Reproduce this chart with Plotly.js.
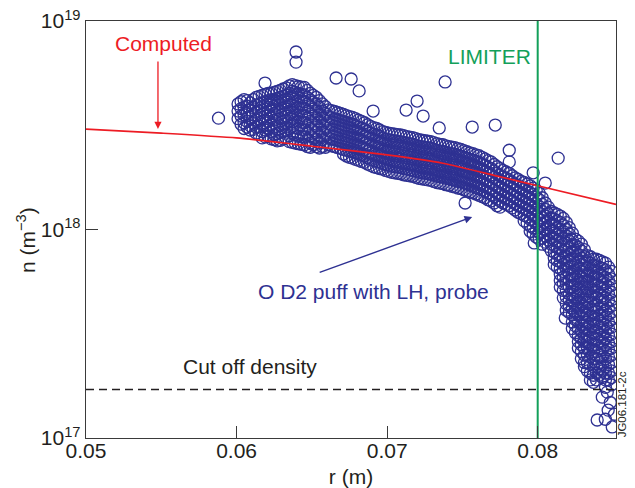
<!DOCTYPE html>
<html>
<head>
<meta charset="utf-8">
<script src="https://cdn.plot.ly/plotly-3.0.1.min.js"></script>
<style>
  html, body { margin: 0; padding: 0; background: #fff; }
  #chart { width: 635px; height: 488px; }
</style>
</head>
<body>
<div id="chart"></div>
<script>
// ---- Data (densities in units of 1e18 m^-3) ----
// Probe measurements, grouped by radius column (first set)
const probeColR = [
  0.0601, 0.0605, 0.0609, 0.0613, 0.0617, 0.0621, 0.0625, 0.0629, 0.0633, 0.0637,
  0.0641, 0.0645, 0.0649, 0.0653, 0.0657, 0.0661, 0.0665, 0.0669, 0.0673, 0.0677,
  0.0681, 0.0685, 0.0689, 0.0693, 0.0697, 0.0701, 0.0705, 0.0709, 0.0713, 0.0717,
  0.0721, 0.0725, 0.0729, 0.0733, 0.0737, 0.0741, 0.0745, 0.0749, 0.0753, 0.0757,
  0.0761, 0.0765, 0.0769, 0.0773, 0.0777, 0.0781, 0.0785, 0.0789, 0.0793, 0.0797,
  0.0801, 0.0805, 0.0809, 0.0813, 0.0817, 0.0821, 0.0825, 0.0829, 0.0833, 0.0837,
  0.0841, 0.0845, 0.0849
];
const probeColN = [
  [4.0, 3.7, 3.4],
  [4.2, 3.85, 3.55, 3.25, 3.05],
  [4.05, 3.75, 3.45, 3.15, 3.0],
  [4.3, 3.95, 3.65, 3.35, 3.1, 2.9],
  [4.4, 4.05, 3.75, 3.45, 3.2, 2.95, 2.75],
  [4.5, 4.15, 3.85, 3.55, 3.3, 3.05, 2.8],
  [4.55, 4.2, 3.9, 3.6, 3.35, 3.1, 2.85, 2.7],
  [4.65, 4.3, 4.0, 3.7, 3.4, 3.15, 2.92, 2.68],
  [4.78, 4.4, 4.08, 3.78, 3.5, 3.22, 2.98, 2.75],
  [4.95, 4.6, 4.25, 3.95, 3.65, 3.38, 3.12, 2.9, 2.62],
  [4.85, 4.5, 4.15, 3.85, 3.55, 3.3, 3.05, 2.8, 2.58],
  [4.8, 4.42, 4.1, 3.8, 3.5, 3.25, 3.0, 2.78, 2.55],
  [4.5, 4.18, 3.88, 3.58, 3.3, 3.05, 2.82, 2.6, 2.48],
  [4.3, 3.98, 3.68, 3.4, 3.15, 2.92, 2.7, 2.5],
  [4.0, 3.7, 3.42, 3.16, 2.93, 2.7, 2.5],
  [3.75, 3.48, 3.22, 2.98, 2.75, 2.55],
  [3.68, 3.4, 3.15, 2.92, 2.7, 2.5],
  [3.6, 3.33, 3.08, 2.85, 2.65, 2.45],
  [3.52, 3.26, 3.02, 2.8, 2.6, 2.4, 2.25],
  [3.45, 3.2, 2.96, 2.74, 2.54, 2.36, 2.2],
  [3.35, 3.1, 2.88, 2.68, 2.48, 2.3, 2.15],
  [3.25, 3.02, 2.8, 2.6, 2.42, 2.25, 2.1],
  [3.12, 2.9, 2.7, 2.5, 2.33, 2.17, 2.03],
  [3.05, 2.84, 2.64, 2.45, 2.28, 2.12, 1.98],
  [2.95, 2.75, 2.56, 2.38, 2.22, 2.07, 1.95],
  [2.9, 2.7, 2.51, 2.34, 2.18, 2.03, 1.9],
  [2.87, 2.67, 2.48, 2.31, 2.15, 2.0, 1.87],
  [2.84, 2.64, 2.46, 2.28, 2.12, 1.98, 1.85],
  [2.79, 2.6, 2.42, 2.25, 2.09, 1.95, 1.82],
  [2.76, 2.57, 2.39, 2.22, 2.06, 1.92, 1.8],
  [2.7, 2.51, 2.34, 2.17, 2.02, 1.88, 1.76],
  [2.67, 2.48, 2.31, 2.15, 2.0, 1.86, 1.74],
  [2.64, 2.46, 2.29, 2.13, 1.98, 1.84, 1.72],
  [2.58, 2.4, 2.23, 2.08, 1.94, 1.8, 1.68],
  [2.55, 2.37, 2.2, 2.05, 1.91, 1.78, 1.66],
  [2.5, 2.33, 2.17, 2.02, 1.88, 1.75, 1.63],
  [2.47, 2.3, 2.14, 1.99, 1.85, 1.72, 1.6],
  [2.42, 2.25, 2.09, 1.95, 1.81, 1.69, 1.57],
  [2.36, 2.2, 2.05, 1.9, 1.77, 1.65, 1.53],
  [2.31, 2.15, 2.0, 1.86, 1.73, 1.61, 1.5],
  [2.26, 2.1, 1.95, 1.82, 1.69, 1.57, 1.46],
  [2.18, 2.03, 1.89, 1.76, 1.64, 1.52, 1.42],
  [2.11, 1.96, 1.83, 1.7, 1.58, 1.47, 1.37],
  [2.0, 1.86, 1.73, 1.61, 1.5, 1.4, 1.3],
  [1.92, 1.79, 1.66, 1.55, 1.44, 1.34],
  [1.86, 1.73, 1.61, 1.5, 1.4, 1.3],
  [1.77, 1.65, 1.54, 1.43, 1.33, 1.24],
  [1.7, 1.58, 1.47, 1.37, 1.28, 1.19],
  [1.65, 1.53, 1.43, 1.33, 1.24, 1.15, 1.07],
  [1.58, 1.47, 1.37, 1.27, 1.18, 1.1, 1.02, 0.95],
  [1.49, 1.39, 1.29, 1.2, 1.12, 1.04, 0.97, 0.9],
  [1.34, 1.25, 1.16, 1.08, 1.0, 0.93, 0.87],
  [1.22, 1.13, 1.05, 0.98, 0.91, 0.85, 0.79],
  [1.18, 1.1, 1.02, 0.95, 0.88, 0.82, 0.76, 0.71, 0.66],
  [1.13, 1.05, 0.98, 0.91, 0.85, 0.79, 0.73, 0.68, 0.63, 0.59, 0.55, 0.51, 0.47],
  [1.02, 0.95, 0.88, 0.82, 0.76, 0.71, 0.66, 0.61, 0.57, 0.53, 0.49, 0.46, 0.43, 0.4],
  [0.9, 0.84, 0.78, 0.72, 0.67, 0.62, 0.58, 0.54, 0.5, 0.465, 0.43, 0.4, 0.37, 0.345, 0.32],
  [0.85, 0.79, 0.73, 0.68, 0.63, 0.59, 0.55, 0.51, 0.47, 0.44, 0.41, 0.38, 0.35, 0.325, 0.3, 0.28, 0.26, 0.24],
  [0.75, 0.7, 0.65, 0.6, 0.56, 0.52, 0.48, 0.45, 0.42, 0.39, 0.36, 0.335, 0.31, 0.29, 0.27, 0.25, 0.23, 0.21],
  [0.72, 0.67, 0.62, 0.58, 0.54, 0.5, 0.465, 0.43, 0.4, 0.37, 0.345, 0.32, 0.3, 0.28, 0.26, 0.24, 0.22, 0.2, 0.185],
  [0.71, 0.66, 0.61, 0.57, 0.53, 0.49, 0.455, 0.42, 0.39, 0.365, 0.34, 0.315, 0.29, 0.27, 0.25, 0.23, 0.215, 0.2],
  [0.69, 0.64, 0.59, 0.55, 0.51, 0.47, 0.44, 0.41, 0.38, 0.35, 0.325, 0.3, 0.28, 0.26, 0.24, 0.22, 0.205, 0.19, 0.175],
  [0.63, 0.58, 0.54, 0.5, 0.46, 0.43, 0.4, 0.37, 0.34, 0.315, 0.29, 0.27, 0.25, 0.23, 0.21, 0.195, 0.18]
];
// Probe measurements, second set of radius columns (interleaved)
const probeCol2R = [
  0.0603, 0.0607, 0.0611, 0.0615, 0.0619, 0.0623, 0.0627, 0.0631, 0.0635, 0.0639,
  0.0643, 0.0647, 0.0651, 0.0655, 0.0659, 0.0663, 0.0667, 0.0671, 0.0675, 0.0679,
  0.0683, 0.0687, 0.0691, 0.0695, 0.0699, 0.0703, 0.0707, 0.0711, 0.0715, 0.0719,
  0.0723, 0.0727, 0.0731, 0.0735, 0.0739, 0.0743, 0.0747, 0.0751, 0.0755, 0.0759,
  0.0763, 0.0767, 0.0771, 0.0775, 0.0779, 0.0783, 0.0787, 0.0791, 0.0795, 0.0799,
  0.0803, 0.0807, 0.0811, 0.0815, 0.0819, 0.0823, 0.0827, 0.0831, 0.0835, 0.0839,
  0.0843, 0.0847
];
const probeCol2N = [
  [4.1, 3.8, 3.5, 3.2],
  [4.15, 3.9, 3.6, 3.3, 3.1],
  [4.2, 3.85, 3.55, 3.25, 3.02],
  [4.35, 4.0, 3.7, 3.4, 3.12, 2.85],
  [4.45, 4.1, 3.8, 3.5, 3.25, 3.0, 2.78],
  [4.5, 4.2, 3.95, 3.7, 3.42, 3.18, 2.95, 2.72],
  [4.6, 4.25, 3.95, 3.65, 3.38, 3.12, 2.88, 2.66],
  [4.72, 4.35, 4.05, 3.75, 3.45, 3.2, 2.95, 2.72],
  [4.88, 4.5, 4.18, 3.88, 3.6, 3.32, 3.05, 2.82, 2.64],
  [4.9, 4.55, 4.22, 3.9, 3.6, 3.34, 3.08, 2.85, 2.6],
  [4.82, 4.46, 4.12, 3.82, 3.53, 3.27, 3.02, 2.79, 2.56],
  [4.65, 4.3, 3.98, 3.68, 3.4, 3.15, 2.9, 2.68, 2.5],
  [4.4, 4.08, 3.78, 3.5, 3.22, 2.98, 2.76, 2.55],
  [4.15, 3.85, 3.55, 3.28, 3.04, 2.81, 2.6, 2.46],
  [3.88, 3.6, 3.33, 3.08, 2.85, 2.64, 2.48],
  [3.72, 3.44, 3.18, 2.95, 2.72, 2.52],
  [3.64, 3.37, 3.12, 2.88, 2.67, 2.47],
  [3.56, 3.3, 3.05, 2.82, 2.62, 2.42, 2.3],
  [3.48, 3.23, 2.99, 2.77, 2.57, 2.38, 2.22],
  [3.4, 3.15, 2.92, 2.71, 2.51, 2.33, 2.17],
  [3.3, 3.06, 2.84, 2.64, 2.45, 2.27, 2.12],
  [3.18, 2.96, 2.75, 2.55, 2.37, 2.21, 2.06],
  [3.08, 2.87, 2.67, 2.48, 2.3, 2.14, 2.0],
  [3.0, 2.8, 2.6, 2.41, 2.25, 2.1, 1.96],
  [2.92, 2.72, 2.53, 2.36, 2.2, 2.05, 1.92],
  [2.88, 2.68, 2.49, 2.32, 2.16, 2.01, 1.88],
  [2.85, 2.65, 2.47, 2.3, 2.13, 1.99, 1.86],
  [2.82, 2.62, 2.44, 2.26, 2.1, 1.96, 1.83],
  [2.77, 2.58, 2.4, 2.23, 2.07, 1.93, 1.81],
  [2.73, 2.54, 2.36, 2.19, 2.04, 1.9, 1.78],
  [2.68, 2.5, 2.32, 2.16, 2.01, 1.87, 1.75],
  [2.65, 2.47, 2.3, 2.14, 1.99, 1.85, 1.73],
  [2.61, 2.43, 2.26, 2.1, 1.96, 1.82, 1.7],
  [2.56, 2.38, 2.22, 2.06, 1.92, 1.79, 1.67],
  [2.52, 2.35, 2.18, 2.03, 1.89, 1.76, 1.64],
  [2.48, 2.31, 2.15, 2.0, 1.86, 1.73, 1.61],
  [2.44, 2.27, 2.11, 1.97, 1.83, 1.7, 1.58],
  [2.39, 2.22, 2.07, 1.92, 1.79, 1.67, 1.55],
  [2.33, 2.17, 2.02, 1.88, 1.75, 1.63, 1.51],
  [2.28, 2.12, 1.97, 1.84, 1.71, 1.59, 1.48],
  [2.22, 2.06, 1.92, 1.79, 1.66, 1.55, 1.44],
  [2.14, 1.99, 1.86, 1.73, 1.61, 1.5, 1.39],
  [2.05, 1.91, 1.78, 1.66, 1.54, 1.44, 1.34],
  [1.96, 1.82, 1.7, 1.58, 1.47, 1.37, 1.28],
  [1.89, 1.76, 1.64, 1.52, 1.42, 1.32],
  [1.81, 1.69, 1.57, 1.46, 1.36, 1.27],
  [1.74, 1.62, 1.5, 1.4, 1.3, 1.21],
  [1.68, 1.56, 1.45, 1.35, 1.26, 1.17, 1.1],
  [1.62, 1.5, 1.4, 1.3, 1.21, 1.12, 1.04, 0.98],
  [1.54, 1.43, 1.33, 1.24, 1.15, 1.07, 0.99, 0.92],
  [1.42, 1.32, 1.22, 1.14, 1.06, 0.98, 0.91, 0.85],
  [1.28, 1.19, 1.1, 1.02, 0.95, 0.89, 0.83],
  [1.2, 1.12, 1.04, 0.96, 0.9, 0.84, 0.78, 0.73, 0.68],
  [1.16, 1.08, 1.0, 0.93, 0.87, 0.81, 0.75, 0.7, 0.65, 0.61, 0.57, 0.53],
  [1.08, 1.0, 0.93, 0.86, 0.8, 0.74, 0.69, 0.64, 0.59, 0.55, 0.51, 0.475, 0.44, 0.41],
  [0.96, 0.89, 0.83, 0.77, 0.71, 0.66, 0.61, 0.57, 0.53, 0.49, 0.455, 0.42, 0.39, 0.36, 0.335],
  [0.88, 0.82, 0.76, 0.7, 0.65, 0.6, 0.56, 0.52, 0.485, 0.45, 0.42, 0.39, 0.36, 0.335, 0.31, 0.29, 0.27],
  [0.8, 0.74, 0.69, 0.64, 0.6, 0.56, 0.52, 0.485, 0.45, 0.42, 0.39, 0.36, 0.335, 0.31, 0.29, 0.27, 0.25, 0.23, 0.22],
  [0.74, 0.69, 0.64, 0.6, 0.56, 0.52, 0.48, 0.45, 0.415, 0.385, 0.355, 0.33, 0.305, 0.285, 0.265, 0.245, 0.225, 0.205, 0.19],
  [0.72, 0.67, 0.62, 0.58, 0.54, 0.5, 0.47, 0.435, 0.405, 0.375, 0.35, 0.325, 0.3, 0.28, 0.26, 0.24, 0.22, 0.205, 0.19],
  [0.7, 0.65, 0.6, 0.56, 0.52, 0.48, 0.45, 0.415, 0.385, 0.355, 0.33, 0.305, 0.285, 0.265, 0.245, 0.225, 0.21, 0.195],
  [0.66, 0.61, 0.57, 0.53, 0.49, 0.455, 0.42, 0.39, 0.36, 0.335, 0.31, 0.285, 0.265, 0.245, 0.225, 0.205, 0.19]
];
// Scattered individual probe points
const probeOutR = [0.0588, 0.06395, 0.06395, 0.06189, 0.06661, 0.06761, 0.06814, 0.06907, 0.07126, 0.07199,
                   0.07239, 0.07385, 0.07346, 0.07565, 0.07718, 0.07811, 0.07811, 0.08136, 0.07518, 0.0797,
                   0.0805, 0.08183, 0.07977,
                   0.08395, 0.08449, 0.08468, 0.08482, 0.08429, 0.08462, 0.08495, 0.0851];
const probeOutN = [3.42, 7.1, 6.35, 5.04, 5.33, 5.27, 4.62, 3.70, 3.74, 4.13,
                   3.50, 5.10, 3.07, 3.10, 3.17, 2.40, 2.11, 2.20, 1.34, 1.87,
                   1.67, 0.376, 0.862,
                   0.122, 0.123, 0.136, 0.148, 0.157, 0.166, 0.113, 0.13];
// Computed profile
const computedR = [0.050, 0.055, 0.060, 0.065, 0.070, 0.0737, 0.0775, 0.080, 0.0852];
const computedN = [3.03, 2.90, 2.75, 2.51, 2.28, 2.08, 1.79, 1.62, 1.32];
// Reference lines
const cutoffDensity = 0.171;   // x1e18
const limiterR = 0.080;
const xRange = [0.05, 0.0852];
const yTickVals = [1e17, 1e18, 1e19];
const yTickText = ['10<sup>17</sup>', '10<sup>18</sup>', '10<sup>19</sup>'];
const xTickVals = [0.05, 0.06, 0.07, 0.08];
const xTickText = ['0.05', '0.06', '0.07', '0.08'];

const UNIT = 1e18;
const probeR = [], probeN = [];
probeColR.forEach((r, i) => probeColN[i].forEach(n => { probeR.push(r); probeN.push(n * UNIT); }));
probeCol2R.forEach((r, i) => probeCol2N[i].forEach(n => { probeR.push(r); probeN.push(n * UNIT); }));
probeOutR.forEach((r, i) => { probeR.push(r); probeN.push(probeOutN[i] * UNIT); });

const BLUE = '#2e3192', RED = '#ed1c24', GREEN = '#13a05a', INK = '#231f20';
const FONT = 'Liberation Sans, Arial, Helvetica, sans-serif';

const traces = [
  {
    x: probeR, y: probeN, type: 'scatter', mode: 'markers',
    marker: { symbol: 'circle-open', size: 12, color: BLUE, line: { width: 1.3, color: BLUE } },
    hoverinfo: 'skip', showlegend: false
  },
  {
    x: computedR, y: computedN.map(v => v * UNIT), type: 'scatter', mode: 'lines',
    line: { color: RED, width: 1.6, shape: 'spline', smoothing: 0.6 }, showlegend: false
  },
  {
    x: xRange, y: [cutoffDensity * UNIT, cutoffDensity * UNIT], type: 'scatter', mode: 'lines',
    line: { color: INK, width: 1.5, dash: '8px,5px' }, showlegend: false
  },
  {
    x: [limiterR, limiterR], y: [yTickVals[0], yTickVals[2]], type: 'scatter', mode: 'lines',
    line: { color: GREEN, width: 2 }, showlegend: false
  }
];

const L = Math.log10;
const layout = {
  width: 635, height: 488,
  margin: { l: 86, r: 19, t: 21, b: 50 },
  paper_bgcolor: '#fff', plot_bgcolor: '#fff',
  font: { family: FONT, color: INK, size: 20 },
  showlegend: false,
  xaxis: {
    range: xRange, showgrid: false, zeroline: false,
    showline: true, linecolor: '#3a3a3a', linewidth: 1.3, mirror: true,
    ticks: 'inside', ticklen: 12, tickwidth: 1.2, tickcolor: '#3a3a3a',
    tickvals: xTickVals, ticktext: xTickText, ticklabelstandoff: -7,
    tickfont: { family: FONT, size: 21, color: INK },
    title: { text: 'r (m)', font: { family: FONT, size: 21, color: INK }, standoff: 12 }
  },
  yaxis: {
    type: 'log', range: [17, 19], showgrid: false, zeroline: false,
    showline: true, linecolor: '#3a3a3a', linewidth: 1.3, mirror: true,
    ticks: 'inside', ticklen: 12, tickwidth: 1.2, tickcolor: '#3a3a3a',
    tickvals: yTickVals, ticktext: yTickText,
    tickfont: { family: FONT, size: 21, color: INK }
  },
  annotations: [
    { x: -0.113, y: 0.475, xref: 'paper', yref: 'paper', text: 'n (m<sup>−3</sup>)', showarrow: false,
      textangle: -90, xanchor: 'center', yanchor: 'middle',
      font: { family: FONT, size: 21, color: INK } },
    { x: 0.05512, y: 18.890, xref: 'x', yref: 'y', text: 'Computed', showarrow: false,
      font: { family: FONT, size: 21, color: RED } },
    { x: 0.05478, y: L(computedN[1] * UNIT) + 0.02, xref: 'x', yref: 'y', axref: 'x', ayref: 'y',
      ax: 0.05478, ay: 18.813, text: '', showarrow: true, arrowhead: 2, arrowsize: 1.1,
      arrowwidth: 1.3, arrowcolor: RED },
    { x: 0.07678, y: 18.832, xref: 'x', yref: 'y', text: 'LIMITER', showarrow: false,
      font: { family: FONT, size: 21, color: GREEN } },
    { x: 0.0691, y: 17.705, xref: 'x', yref: 'y', text: 'O D2 puff with LH, probe', showarrow: false,
      font: { family: FONT, size: 21, color: BLUE } },
    { x: 0.07565, y: 18.060, xref: 'x', yref: 'y', axref: 'x', ayref: 'y',
      ax: 0.06542, ay: 17.7914, text: '', showarrow: true, arrowhead: 2, arrowsize: 1.1,
      arrowwidth: 1.4, arrowcolor: BLUE },
    { x: 0.06086, y: 17.345, xref: 'x', yref: 'y', text: 'Cut off density', showarrow: false,
      font: { family: FONT, size: 21, color: INK } },
    { x: 1.012, y: 0.0815, xref: 'paper', yref: 'paper', text: 'JG06.181-2c', showarrow: false,
      textangle: -90, xanchor: 'center', yanchor: 'middle',
      font: { family: FONT, size: 11.5, color: INK } }
  ]
};

Plotly.newPlot('chart', traces, layout, { displayModeBar: false, staticPlot: true });
</script>
</body>
</html>
